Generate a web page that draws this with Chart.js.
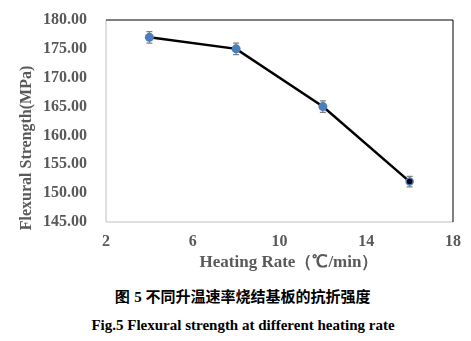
<!DOCTYPE html>
<html lang="zh">
<head>
    <meta charset="UTF-8">
    <title>Flexural strength at different heating rate</title>
    <script src="https://cdn.jsdelivr.net/npm/chart.js"></script>
    <style>
        body { margin: 0; background: #fff; width: 471px; height: 341px; overflow: hidden; position: relative; }
        #wrap { position: absolute; left: 0; top: 0; width: 471px; height: 280px; }
        .cap { position: absolute; left: 0; width: 486px; text-align: center; font-weight: bold; color: #000; }
        #capCn { top: 285px; font-family: "Noto Sans CJK SC", sans-serif; font-size: 15px; }
        #capCn span { font-family: "Liberation Serif", serif; }
        #capEn { top: 317px; font-family: "Liberation Serif", serif; font-size: 15px; }
    </style>
</head>
<body>
    <div id="wrap"><canvas id="chart" width="471" height="280"></canvas></div>
    <div class="cap" id="capCn"><span>图 5 </span>不同升温速率烧结基板的抗折强度</div>
    <div class="cap" id="capEn">Fig.5 Flexural strength at different heating rate</div>

    <script>
        // heating rate (°C/min) vs flexural strength (MPa)
        const heatingRate = [4, 8, 12, 16];
        const strength = [177, 175, 165, 152];
        const strengthErr = [1, 1, 1, 0.9];

        const grey = '#595959';
        const serif = '"Liberation Serif", "Times New Roman", serif';

        // frame round the plot area + error bars
        const errorBars = {
            id: 'errorBars',
            beforeDatasetsDraw(chart) {
                const { ctx, chartArea: a, scales: { x, y } } = chart;
                ctx.save();
                ctx.lineWidth = 1;
                ctx.strokeStyle = '#bfbfbf';
                ctx.beginPath();
                ctx.moveTo(a.left, a.top);
                ctx.lineTo(a.left, a.bottom);
                ctx.lineTo(a.right, a.bottom);
                ctx.stroke();
                ctx.strokeStyle = '#000';
                ctx.beginPath();
                ctx.moveTo(a.left, a.top);
                ctx.lineTo(a.right, a.top);
                ctx.lineTo(a.right, a.bottom);
                ctx.stroke();

                ctx.strokeStyle = '#7f7f7f';
                ctx.lineWidth = 1.2;
                heatingRate.forEach((r, i) => {
                    const px = x.getPixelForValue(r);
                    const hi = y.getPixelForValue(strength[i] + strengthErr[i]);
                    const lo = y.getPixelForValue(strength[i] - strengthErr[i]);
                    ctx.beginPath();
                    ctx.moveTo(px, hi); ctx.lineTo(px, lo);
                    ctx.moveTo(px - 3, hi); ctx.lineTo(px + 3, hi);
                    ctx.moveTo(px - 3, lo); ctx.lineTo(px + 3, lo);
                    ctx.stroke();
                });
                ctx.restore();
            },
            // axis titles, placed like the original (a bit off centre)
            afterDraw(chart) {
                const { ctx } = chart;
                ctx.save();
                ctx.fillStyle = grey;
                ctx.font = 'bold 17px ' + serif;
                ctx.textAlign = 'center';
                ctx.textBaseline = 'middle';
                ctx.fillText('Heating Rate（℃/min）', 289, 263);
                ctx.font = 'bold 16px ' + serif;
                ctx.translate(27, 148);
                ctx.rotate(-Math.PI / 2);
                ctx.fillText('Flexural Strength(MPa)', 0, 0);
                ctx.restore();
            }
        };

        new Chart(document.getElementById('chart'), {
            type: 'scatter',
            data: {
                datasets: [{
                    data: heatingRate.map((r, i) => ({ x: r, y: strength[i] })),
                    showLine: true,
                    borderColor: '#000',
                    borderWidth: 2.5,
                    pointRadius: [4.5, 4.5, 4.5, 3.5],
                    pointBorderWidth: [0, 0, 0, 1.5],
                    pointBackgroundColor: ['#4a7ebb', '#4a7ebb', '#4a7ebb', '#000'],
                    pointBorderColor: '#4a7ebb',
                }],
            },
            options: {
                responsive: false,
                animation: false,
                layout: { padding: { top: 20, right: 18, left: 0, bottom: 0 } },
                plugins: { legend: { display: false }, tooltip: { enabled: false } },
                scales: {
                    x: {
                        min: 2, max: 18,
                        grid: { display: false, drawTicks: false },
                        border: { display: false },
                        ticks: { stepSize: 4, padding: 10, color: grey, font: { family: serif, size: 16, weight: 'bold' } },
                        afterFit(s) { s.height = 58; s.paddingLeft = 0; s.paddingRight = 0; },
                    },
                    y: {
                        min: 145, max: 180,
                        grid: { display: false, drawTicks: false },
                        border: { display: false },
                        ticks: { stepSize: 5, padding: 19, color: grey, font: { family: serif, size: 16, weight: 'bold' }, callback: v => v.toFixed(2) },
                        afterFit(s) { s.width = 106; s.paddingTop = 0; s.paddingBottom = 0; },
                    },
                },
            },
            plugins: [errorBars],
        });
    </script>
</body>
</html>
